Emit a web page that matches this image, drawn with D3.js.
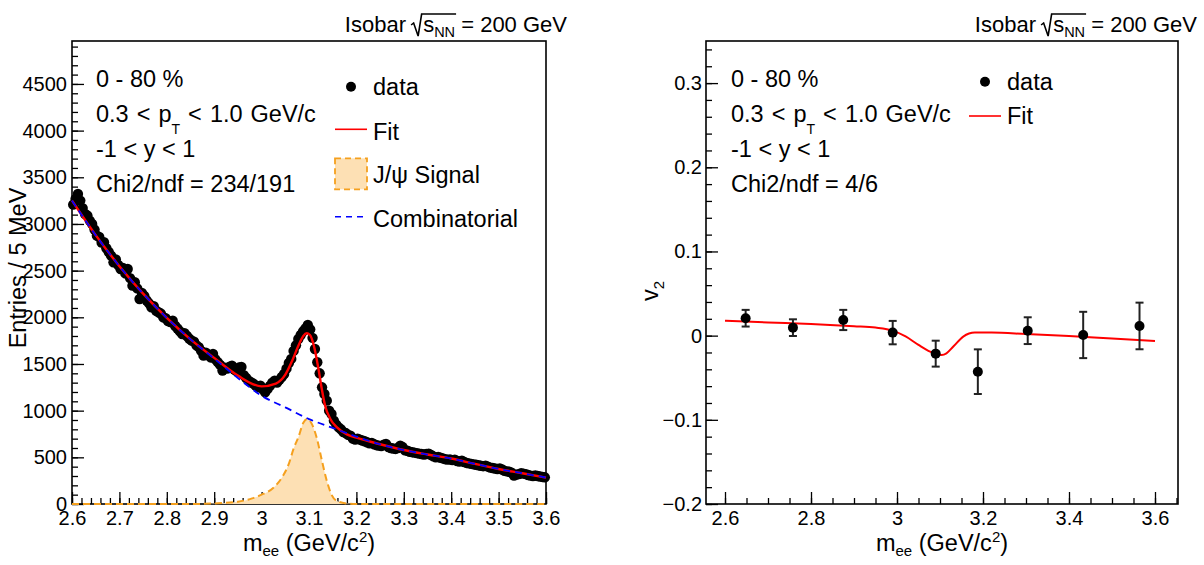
<!DOCTYPE html>
<html>
<head>
<meta charset="utf-8">
<script src="https://cdn.jsdelivr.net/npm/d3@7"></script>
<style>
  body { margin: 0; background: #fff; }
  svg text { font-family: "Liberation Sans", Arial, Helvetica, sans-serif; fill: #000; }
</style>
</head>
<body>
<div id="chart"></div>
<script>
// ---------- data ----------

// invariant mass histogram, 5 MeV bins from 2.6 to 3.6 GeV/c^2
const binLow = 2.6, binWidth = 0.005;
const entries = [
  3207, 3268, 3321, 3250, 3170, 3107, 3090, 3036, 3000, 2940,
  2875, 2860, 2800, 2804, 2740, 2700, 2660, 2589, 2620, 2560,
  2518, 2530, 2470, 2518, 2420, 2339, 2375, 2310, 2196, 2260,
  2230, 2180, 2150, 2107, 2120, 2070, 2054, 2040, 2000, 1990,
  1960, 1950, 1964, 1910, 1880, 1850, 1821, 1830, 1800, 1770,
  1750, 1740, 1700, 1680, 1640, 1589, 1620, 1600, 1570, 1607,
  1550, 1520, 1490, 1429, 1460, 1450, 1470, 1482, 1440, 1420,
  1464, 1468, 1380, 1350, 1320, 1304, 1290, 1270, 1250, 1268,
  1230, 1196, 1230, 1265, 1300, 1321, 1300, 1330, 1360, 1393,
  1450, 1510, 1554, 1640, 1700, 1768, 1810, 1850, 1880, 1918,
  1870, 1780, 1661, 1518, 1400, 1250, 1178, 1107, 1000, 964,
  893, 850, 821, 800, 770, 760, 740, 732, 700, 690,
  700, 690, 680, 672, 661, 650, 655, 640, 630, 625,
  620, 635, 643, 610, 600, 595, 590, 600, 625, 610,
  575, 570, 560, 555, 550, 545, 540, 535, 530, 535,
  540, 525, 510, 500, 505, 495, 488, 480, 475, 478,
  470, 475, 460, 455, 464, 450, 440, 435, 430, 425,
  420, 415, 410, 405, 411, 400, 390, 385, 380, 375,
  380, 370, 355, 350, 345, 335, 304, 315, 320, 330,
  325, 320, 310, 304, 300, 305, 300, 295, 290, 286
];

// total fit (red)
const fitMass   = [2.6, 2.65, 2.7, 2.75, 2.8, 2.85, 2.9, 2.95, 3.0, 3.03, 3.05, 3.065, 3.078, 3.088, 3.095, 3.102, 3.11, 3.12, 3.127, 3.134, 3.145, 3.159, 3.18, 3.2, 3.25, 3.3, 3.35, 3.4, 3.45, 3.5, 3.55, 3.6];
const fitCounts = [3250, 2880, 2548, 2254, 1994, 1764, 1565, 1375, 1260, 1290, 1385, 1540, 1700, 1800, 1829, 1810, 1700, 1446, 1232, 1053, 911, 821, 746, 711, 640, 578, 530, 487, 430, 375, 330, 283];

// combinatorial background (blue dashed)
const bkgMass   = [2.6, 2.65, 2.7, 2.75, 2.8, 2.85, 2.9, 2.95, 3.0, 3.05, 3.1, 3.15, 3.2, 3.25, 3.3, 3.35, 3.4, 3.45, 3.5, 3.55, 3.6];
const bkgCounts = [3250, 2880, 2548, 2254, 1994, 1764, 1558, 1350, 1160, 1035, 910, 815, 722, 640, 578, 530, 487, 430, 375, 330, 283];

// J/psi signal (orange)
const sigMass   = [2.6, 2.85, 2.9, 2.95, 2.98, 3.0, 3.025, 3.043, 3.057, 3.068, 3.078, 3.088, 3.096, 3.104, 3.117, 3.127, 3.138, 3.148, 3.16, 3.18, 3.2, 3.6];
const sigCounts = [0, 0, 6, 25, 60, 100, 175, 285, 425, 600, 720, 870, 911, 875, 696, 470, 240, 95, 30, 5, 0, 0];

// v2 vs mass
const v2Mass  = [2.648, 2.758, 2.875, 2.990, 3.090, 3.188, 3.304, 3.433, 3.564];
const v2Value = [0.0207, 0.0095, 0.0186, 0.0036, -0.0214, -0.0428, 0.0059, 0.0008, 0.0115];
const v2Error = [0.0099, 0.0099, 0.0120, 0.0139, 0.0154, 0.0265, 0.0159, 0.0275, 0.0277];

// v2 fit (red)
const v2FitMass  = [2.6, 2.7, 2.8, 2.9, 2.95, 2.99, 3.02, 3.05, 3.077, 3.095, 3.104, 3.115, 3.131, 3.154, 3.181, 3.22, 3.3, 3.4, 3.5, 3.6];
const v2FitValue = [0.0178, 0.0157, 0.0138, 0.0112, 0.0096, 0.0060, -0.0010, -0.0110, -0.0190, -0.0225, -0.0230, -0.0210, -0.0130, -0.0012, 0.0036, 0.0036, 0.0019, -0.0005, -0.0035, -0.0063];

// tick labels
const massTicksL  = [2.6, 2.7, 2.8, 2.9, 3.0, 3.1, 3.2, 3.3, 3.4, 3.5, 3.6];
const massLabelsL = ['2.6', '2.7', '2.8', '2.9', '3', '3.1', '3.2', '3.3', '3.4', '3.5', '3.6'];
const countTicks  = [0, 500, 1000, 1500, 2000, 2500, 3000, 3500, 4000, 4500];
const countLabels = ['0', '500', '1000', '1500', '2000', '2500', '3000', '3500', '4000', '4500'];
const massTicksR  = [2.6, 2.8, 3.0, 3.2, 3.4, 3.6];
const massLabelsR = ['2.6', '2.8', '3', '3.2', '3.4', '3.6'];
const v2Ticks     = [-0.2, -0.1, 0, 0.1, 0.2, 0.3];
const v2Labels    = ['\u22120.2', '\u22120.1', '0', '0.1', '0.2', '0.3'];

// ---------- drawing ----------
const svg = d3.select('#chart').append('svg')
    .attr('width', 1204)
    .attr('height', 565);

const FONT = '"Liberation Sans", Arial, Helvetica, sans-serif';
const TXT = 23.5;   // size of the big labels (ROOT text size)

// frame boxes of the two pads
const boxL = {x0: 72, x1: 546, y0: 41, y1: 504};
const boxR = {x0: 706, x1: 1178, y0: 41, y1: 504};

const xL = d3.scaleLinear().domain([2.6, 3.6]).range([boxL.x0, boxL.x1]);
const yL = d3.scaleLinear().domain([0, 4960]).range([boxL.y1, boxL.y0]);
const xR = d3.scaleLinear().domain([2.5558, 3.6535]).range([boxR.x0, boxR.x1]);
const yR = d3.scaleLinear().domain([-0.2, 0.35]).range([boxR.y1, boxR.y0]);

// ROOT style: ticks point inwards, minor ticks half length
function drawAxes(x, y, box, ax) {
    const g = svg.append('g');
    g.append('g').attr('transform', `translate(0,${box.y1})`)
        .call(d3.axisBottom(x).tickValues(ax.xMinor).tickSize(-6).tickFormat(''));
    g.append('g').attr('transform', `translate(0,${box.y1})`)
        .call(d3.axisBottom(x).tickValues(ax.xMajor).tickSize(-12).tickPadding(7)
            .tickFormat((d, i) => ax.xLabels[i]));
    g.append('g').attr('transform', `translate(${box.x0},0)`)
        .call(d3.axisLeft(y).tickValues(ax.yMinor).tickSize(-6).tickFormat(''));
    g.append('g').attr('transform', `translate(${box.x0},0)`)
        .call(d3.axisLeft(y).tickValues(ax.yMajor).tickSize(-12).tickPadding(ax.yPad)
            .tickFormat((d, i) => ax.yLabels[i]));
    g.selectAll('.domain').remove();
    g.selectAll('.tick line').attr('stroke', '#000').attr('stroke-width', 1.3);
    g.selectAll('.tick text').attr('font-size', 20).attr('font-family', FONT).attr('fill', '#000');

    svg.append('rect')
        .attr('x', box.x0).attr('y', box.y0)
        .attr('width', box.x1 - box.x0).attr('height', box.y1 - box.y0)
        .attr('fill', 'none').attr('stroke', '#000').attr('stroke-width', 1.6);
}

drawAxes(xL, yL, boxL, {
    xMajor: massTicksL, xLabels: massLabelsL, xMinor: d3.range(2.6, 3.6001, 0.02),
    yMajor: countTicks, yLabels: countLabels, yMinor: d3.range(0, 4960, 100), yPad: 5
});
drawAxes(xR, yR, boxR, {
    xMajor: massTicksR, xLabels: massLabelsR, xMinor: d3.range(2.6, 3.6536, 0.05),
    yMajor: v2Ticks, yLabels: v2Labels, yMinor: d3.range(-0.2, 0.3501, 0.02), yPad: 4
});

// header "Isobar sqrt(s_NN) = 200 GeV"
function header(xRight) {
    const base = 32;
    const t = svg.append('text')
        .attr('x', xRight).attr('y', base)
        .attr('text-anchor', 'end')
        .attr('font-size', 22);
    t.append('tspan').text('Isobar ');
    t.append('tspan').attr('dx', 11).text('s');
    t.append('tspan').attr('dy', 5).attr('font-size', 14.5).text('NN');
    t.append('tspan').attr('dy', -5).text(' = 200 GeV');
    const node = t.node();
    const sx = node.getStartPositionOfChar(7).x;
    const ex = node.getEndPositionOfChar(9).x;
    svg.append('path')
        .attr('d', `M${sx - 12},${base - 7} L${sx - 9.5},${base - 9} L${sx - 5},${base + 4} L${sx - 1.5},${base - 18} L${ex + 1},${base - 18}`)
        .attr('fill', 'none').attr('stroke', '#000').attr('stroke-width', 1.6);
}
header(567);
header(1197);

// kinematic info block
function infoBlock(x, chiText) {
    const g = svg.append('g').attr('font-size', TXT);
    g.append('text').attr('x', x).attr('y', 86.7).text('0 - 80 %');
    const pt = g.append('text').attr('x', x).attr('y', 121.7).attr('word-spacing', 1.5);
    pt.append('tspan').text('0.3 < p');
    pt.append('tspan').attr('dy', 12).attr('font-size', 14).text('T');
    pt.append('tspan').attr('dy', -12).text(' < 1.0 GeV/c');
    g.append('text').attr('x', x).attr('y', 156.7).text('-1 < y < 1');
    g.append('text').attr('x', x).attr('y', 191.7).text(chiText);
}
infoBlock(96, 'Chi2/ndf = 234/191');
infoBlock(731, 'Chi2/ndf = 4/6');

// axis titles
function massTitle(cx) {
    const t = svg.append('text')
        .attr('x', cx).attr('y', 551)
        .attr('text-anchor', 'middle')
        .attr('font-size', TXT);
    t.append('tspan').text('m');
    t.append('tspan').attr('dy', 5).attr('font-size', 15).text('ee');
    t.append('tspan').attr('dy', -5).text(' (GeV/c');
    t.append('tspan').attr('dy', -9).attr('font-size', 15).text('2');
    t.append('tspan').attr('dy', 9).text(')');
}
massTitle((boxL.x0 + boxL.x1) / 2);
massTitle((boxR.x0 + boxR.x1) / 2);

svg.append('text')
    .attr('transform', 'translate(26,268) rotate(-90)')
    .attr('text-anchor', 'middle')
    .attr('font-size', TXT)
    .text('Entries / 5 MeV');

const v2t = svg.append('text')
    .attr('transform', 'translate(658,291) rotate(-90)')
    .attr('text-anchor', 'middle')
    .attr('font-size', TXT);
v2t.append('tspan').text('v');
v2t.append('tspan').attr('dy', 6).attr('font-size', 15).text('2');

// ---------- left pad: mass spectrum ----------
const sigColor = '#f5a01e', sigFill = '#fde0b4';

svg.append('path')
    .datum(sigMass.map((m, i) => [m, sigCounts[i]]))
    .attr('d', d3.area().x(d => xL(d[0])).y0(yL(0)).y1(d => yL(d[1])).curve(d3.curveMonotoneX))
    .attr('fill', sigFill);
svg.append('path')
    .datum(sigMass.map((m, i) => [m, sigCounts[i]]))
    .attr('d', d3.line().x(d => xL(d[0])).y(d => yL(d[1])).curve(d3.curveMonotoneX))
    .attr('fill', 'none').attr('stroke', sigColor).attr('stroke-width', 2)
    .attr('stroke-dasharray', '7,4');

svg.append('g').selectAll('circle')
    .data(entries)
    .join('circle')
    .attr('cx', (d, i) => xL(binLow + (i + 0.5) * binWidth))
    .attr('cy', d => yL(d))
    .attr('r', 5.2)
    .attr('fill', '#000');

svg.append('path')
    .datum(fitMass.map((m, i) => [m, fitCounts[i]]))
    .attr('d', d3.line().x(d => xL(d[0])).y(d => yL(d[1])).curve(d3.curveMonotoneX))
    .attr('fill', 'none').attr('stroke', '#ff0000').attr('stroke-width', 2.4);

svg.append('path')
    .datum(bkgMass.map((m, i) => [m, bkgCounts[i]]))
    .attr('d', d3.line().x(d => xL(d[0])).y(d => yL(d[1])).curve(d3.curveMonotoneX))
    .attr('fill', 'none').attr('stroke', '#0000ff').attr('stroke-width', 1.8)
    .attr('stroke-dasharray', '7,5');

// left legend
const legL = svg.append('g').attr('font-size', TXT);
legL.append('circle').attr('cx', 351).attr('cy', 86.7).attr('r', 5).attr('fill', '#000');
legL.append('text').attr('x', 373).attr('y', 94.5).text('data');
legL.append('line').attr('x1', 335).attr('x2', 367).attr('y1', 129.3).attr('y2', 129.3)
    .attr('stroke', '#ff0000').attr('stroke-width', 1.6);
legL.append('text').attr('x', 373).attr('y', 140).text('Fit');
legL.append('rect').attr('x', 335).attr('y', 158.3).attr('width', 32).attr('height', 31)
    .attr('fill', sigFill).attr('stroke', sigColor).attr('stroke-width', 1.8).attr('stroke-dasharray', '6,4');
legL.append('text').attr('x', 373).attr('y', 182.7).text('J/\u03c8 Signal');
legL.append('line').attr('x1', 335).attr('x2', 367).attr('y1', 216.7).attr('y2', 216.7)
    .attr('stroke', '#0000ff').attr('stroke-width', 1.6).attr('stroke-dasharray', '6,5');
legL.append('text').attr('x', 373).attr('y', 226.7).text('Combinatorial');

// ---------- right pad: v2 ----------
svg.append('path')
    .datum(v2FitMass.map((m, i) => [m, v2FitValue[i]]))
    .attr('d', d3.line().x(d => xR(d[0])).y(d => yR(d[1])).curve(d3.curveMonotoneX))
    .attr('fill', 'none').attr('stroke', '#ff0000').attr('stroke-width', 2);

const errG = svg.append('g').attr('stroke', '#222').attr('stroke-width', 2);
v2Mass.forEach((m, i) => {
    const cx = xR(m);
    const lo = yR(v2Value[i] - v2Error[i]), hi = yR(v2Value[i] + v2Error[i]);
    errG.append('line').attr('x1', cx).attr('x2', cx).attr('y1', lo).attr('y2', hi);
    errG.append('line').attr('x1', cx - 4).attr('x2', cx + 4).attr('y1', lo).attr('y2', lo);
    errG.append('line').attr('x1', cx - 4).attr('x2', cx + 4).attr('y1', hi).attr('y2', hi);
});

svg.append('g').selectAll('circle')
    .data(v2Value)
    .join('circle')
    .attr('cx', (d, i) => xR(v2Mass[i]))
    .attr('cy', d => yR(d))
    .attr('r', 5)
    .attr('fill', '#000');

// right legend
const legR = svg.append('g').attr('font-size', TXT);
legR.append('circle').attr('cx', 985).attr('cy', 81.7).attr('r', 5).attr('fill', '#000');
legR.append('text').attr('x', 1007).attr('y', 90).text('data');
legR.append('line').attr('x1', 969).attr('x2', 1001).attr('y1', 116).attr('y2', 116)
    .attr('stroke', '#ff0000').attr('stroke-width', 1.6);
legR.append('text').attr('x', 1007).attr('y', 124).text('Fit');
</script>
</body>
</html>
